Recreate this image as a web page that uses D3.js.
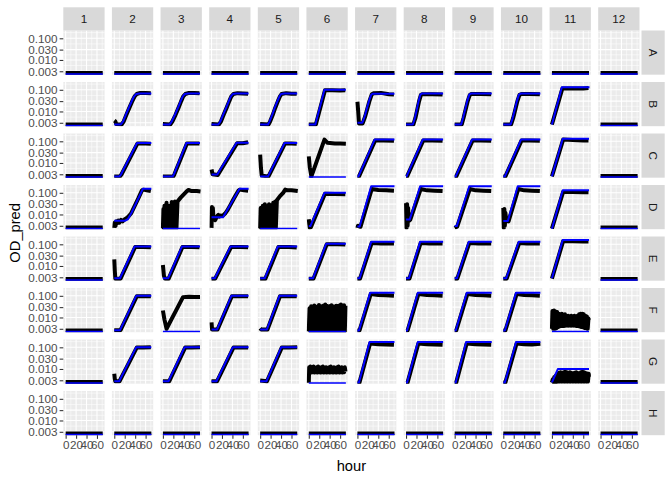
<!DOCTYPE html>
<html><head><meta charset="utf-8">
<script src="https://cdn.jsdelivr.net/npm/d3@7"></script>
<style>body{margin:0;background:#fff} svg{display:block}</style>
</head><body>
<svg id="chart" width="672" height="480"></svg>
<script>
// ---------- data ----------
const rowLabels = ["A","B","C","D","E","F","G","H"];
const colLabels = ["1","2","3","4","5","6","7","8","9","10","11","12"];
const xTicks = [0,20,40,60];
const xMinor = [10,30,50,70];
const yTicks = [0.003,0.01,0.03,0.1];
const yTickLabels = ["0.003","0.010","0.030","0.100"];
const yMinor = [0.0055,0.0173,0.055,0.183];
const xTitle = "hour";
const yTitle = "OD_pred";

// flat series used by panels without growth
const flatObs  = [[0,.0025],[71,.0025]];
const flatPred = [[0,.0022],[71,.0022]];

// model prediction (blue), [hour, OD]
const predLines = [
 {panel:"B2", pts:[[0,.0025],[12.5,.0025],[17,.0035],[22,.007],[28,.015],[34,.032],[38,.05],[42,.064],[48,.067],[71,.068]]},
 {panel:"B3", pts:[[0,.0025],[13,.0025],[17,.0035],[23,.007],[29,.015],[34,.03],[38,.05],[42,.064],[48,.067],[71,.068]]},
 {panel:"B4", pts:[[0,.0025],[13,.0025],[17,.0035],[22,.007],[28,.015],[33,.03],[37,.05],[41,.064],[47,.067],[71,.068]]},
 {panel:"B5", pts:[[0,.0025],[15,.0025],[18,.0035],[23,.007],[28,.015],[33,.03],[37,.05],[40,.064],[46,.067],[71,.068]]},
 {panel:"B6", pts:[[0,.0025],[12.5,.0025],[30,.1],[71,.1]]},
 {panel:"B7", pts:[[0,.003],[9.5,.003],[14,.006],[22,.03],[26.5,.06],[30,.066],[71,.066]]},
 {panel:"B8", pts:[[0,.0025],[13,.0025],[17,.005],[24,.03],[27.5,.06],[31,.068],[71,.068]]},
 {panel:"B9", pts:[[0,.0025],[12.5,.0025],[16,.005],[24,.03],[28,.06],[31,.068],[71,.068]]},
 {panel:"B10",pts:[[0,.0025],[14,.0025],[18,.005],[26,.03],[30,.06],[34,.068],[71,.068]]},
 {panel:"B11",pts:[[0,.0025],[19,.13],[72,.13]]},
 {panel:"C2", pts:[[0,.0024],[10,.0024],[13,.003],[43.5,.083],[71,.083]]},
 {panel:"C3", pts:[[0,.0024],[19,.0024],[21,.003],[45,.083],[71,.083]]},
 {panel:"C4", pts:[[0,.0029],[11,.0029],[48,.085],[71,.085]]},
 {panel:"C5", pts:[[0,.0024],[15,.0024],[46.7,.083],[71,.083]]},
 {panel:"C7", pts:[[0,.0024],[2,.0024],[33,.12],[71,.12]]},
 {panel:"C8", pts:[[0,.0024],[1,.0024],[32,.12],[71,.12]]},
 {panel:"C9", pts:[[0,.0024],[2,.0024],[33.4,.12],[71,.12]]},
 {panel:"C10",pts:[[0,.0024],[3,.0024],[34,.12],[71,.12]]},
 {panel:"C11",pts:[[0,.0024],[20.7,.13],[71,.13]]},
 {panel:"D2", pts:[[0,.0051],[20,.0051],[26,.006],[33,.012],[55,.155],[71,.155]]},
 {panel:"D4", pts:[[0,.0075],[22,.0075],[53.6,.155],[71,.155]]},
 {panel:"D6", pts:[[0,.0029],[3,.0029],[30,.1],[71,.1]]},
 {panel:"D7", pts:[[0,.0028],[4.3,.0028],[26.4,.2],[71,.2]]},
 {panel:"D8", pts:[[0,.0058],[7,.0058],[27,.2],[71,.2]]},
 {panel:"D9", pts:[[0,.0029],[4,.0029],[28,.2],[71,.2]]},
 {panel:"D10",pts:[[0,.005],[8.7,.005],[27.7,.2],[71,.2]]},
 {panel:"D11",pts:[[0,.0022],[20.7,.13],[71,.13]]},
 {panel:"E2", pts:[[0,.0027],[11,.0027],[39,.08],[71,.08]]},
 {panel:"E3", pts:[[0,.0027],[10,.0027],[36.5,.08],[71,.08]]},
 {panel:"E4", pts:[[0,.0027],[6.2,.0027],[36.5,.08],[71,.08]]},
 {panel:"E5", pts:[[0,.0027],[8.7,.0027],[34,.08],[71,.08]]},
 {panel:"E6", pts:[[0,.0027],[8,.0027],[33.4,.107],[71,.107]]},
 {panel:"E7", pts:[[0,.0027],[4.3,.0027],[26.4,.13],[71,.13]]},
 {panel:"E8", pts:[[0,.0027],[5.6,.0027],[27,.13],[71,.13]]},
 {panel:"E9", pts:[[0,.0027],[4.3,.0027],[27,.13],[71,.13]]},
 {panel:"E10",pts:[[0,.0027],[5.6,.0027],[29.6,.13],[71,.13]]},
 {panel:"E11",pts:[[0,.0027],[20.7,.16],[71,.16]]},
 {panel:"F2", pts:[[0,.0026],[11,.0026],[42,.1],[71,.1]]},
 {panel:"F4", pts:[[0,.0028],[10.7,.0028],[38,.1],[71,.1]]},
 {panel:"F5", pts:[[0,.0028],[13,.0028],[37,.1],[71,.1]]},
 {panel:"F7", pts:[[0,.0025],[3,.0025],[24.5,.14],[71,.14]]},
 {panel:"F8", pts:[[0,.0025],[2,.0025],[22.6,.14],[71,.14]]},
 {panel:"F9", pts:[[0,.0025],[2,.0025],[23.3,.14],[71,.14]]},
 {panel:"F10",pts:[[0,.0025],[3,.0025],[24.5,.14],[71,.14]]},
 {panel:"G2", pts:[[0,.0027],[9.4,.0027],[42,.102],[71,.102]]},
 {panel:"G3", pts:[[0,.0027],[10.7,.0027],[41.6,.102],[71,.102]]},
 {panel:"G4", pts:[[0,.0027],[9.4,.0027],[41,.102],[71,.102]]},
 {panel:"G5", pts:[[0,.0027],[12,.0027],[40.4,.102],[71,.102]]},
 {panel:"G7", pts:[[0,.0024],[3,.0024],[23.3,.175],[71,.175]]},
 {panel:"G8", pts:[[0,.0024],[2,.0024],[22.6,.175],[71,.175]]},
 {panel:"G9", pts:[[0,.0024],[2,.0024],[22,.175],[71,.175]]},
 {panel:"G10",pts:[[0,.0024],[3,.0024],[24.5,.175],[71,.175]]},
 {panel:"G11",pts:[[0,.0024],[11.3,.0099],[71,.0099]]}
];

// observed OD (black), [hour, OD]
const obsLines = [
 {panel:"B2", pts:[[0,.0038],[2,.0035],[4,.0026],[14,.0025],[18,.0034],[23,.0068],[29,.015],[35,.032],[39,.05],[43,.064],[50,.072],[60,.071],[70,.07]]},
 {panel:"B3", pts:[[0,.0026],[14,.0025],[18,.0034],[24,.0068],[30,.015],[35,.03],[39,.05],[43,.064],[50,.072],[60,.071],[70,.07]]},
 {panel:"B4", pts:[[0,.0026],[14,.0025],[18,.0034],[23,.0068],[29,.015],[34,.03],[38,.05],[42,.064],[50,.07],[60,.068],[70,.066]]},
 {panel:"B5", pts:[[0,.0026],[16,.0025],[19,.0034],[24,.0068],[29,.015],[34,.03],[38,.05],[41,.064],[50,.07],[60,.066],[70,.065]]},
 {panel:"B6", pts:[[0,.0025],[13.5,.0025],[31,.095],[45,.095],[60,.094],[70,.095]]},
 {panel:"B7", pts:[[0,.028],[1.5,.01],[3,.0028],[10,.0028],[15,.006],[23,.03],[27.5,.062],[32,.07],[45,.072],[60,.062],[70,.06]]},
 {panel:"B8", pts:[[0,.0025],[14,.0025],[18,.005],[25,.03],[28.5,.058],[32,.063],[50,.063],[70,.06]]},
 {panel:"B9", pts:[[0,.0025],[13.5,.0025],[17,.005],[25,.03],[29,.058],[32,.064],[50,.064],[70,.062]]},
 {panel:"B10",pts:[[0,.0025],[15,.0025],[19,.005],[27,.03],[31,.058],[35,.064],[50,.064],[70,.062]]},
 {panel:"B11",pts:[[0,.0025],[20,.115],[40,.115],[60,.115],[70,.12]]},
 {panel:"C2", pts:[[0,.0024],[11,.0024],[14,.003],[44.5,.08],[60,.08],[70,.078]]},
 {panel:"C3", pts:[[0,.0024],[20,.0024],[22,.003],[46,.08],[60,.08],[70,.08]]},
 {panel:"C4", pts:[[0,.005],[2,.003],[12,.0028],[49,.082],[60,.082],[70,.09]]},
 {panel:"C5", pts:[[0,.024],[1.5,.006],[3,.0026],[16,.0024],[47.7,.08],[60,.08],[70,.078]]},
 {panel:"C6", pts:[[0,.02],[2,.006],[5,.0024],[30,.119],[36,.085],[50,.08],[60,.08],[71,.078]]},
 {panel:"C7", pts:[[0,.0024],[3,.0024],[34,.11],[50,.11],[70,.105]]},
 {panel:"C8", pts:[[0,.0024],[2,.0024],[33,.11],[50,.11],[70,.105]]},
 {panel:"C9", pts:[[0,.0024],[3,.0024],[34.4,.11],[50,.11],[70,.105]]},
 {panel:"C10",pts:[[0,.0024],[4,.0024],[35,.11],[50,.11],[70,.105]]},
 {panel:"C11",pts:[[0,.0024],[21.5,.12],[40,.115],[60,.11],[70,.11]]},
 {panel:"D2", pts:[[0,.0024],[1,.0042],[2.5,.003],[4,.0048],[6,.004],[8,.0052],[10,.0042],[13,.0056],[16,.0048],[20,.006],[24,.0068],[28,.0085],[32,.011],[38,.022],[46,.055],[53,.13],[56,.14],[62,.13],[70,.12]]},
 {panel:"D3", pts:[[0,.0023],[1,.018],[2,.0023],[3,.025],[4,.0023],[5,.02],[6,.0023],[7,.035],[8,.0023],[9,.022],[10,.0023],[11,.018],[12,.0023],[13,.025],[14,.0023],[15,.02],[16,.0023],[17,.038],[18,.0023],[19,.022],[20,.0023],[21,.028],[22,.0023],[23,.04],[24,.0023],[25,.03],[26,.0023],[28,.04],[34,.06],[40,.085],[46,.12],[49,.135],[55,.12],[65,.12],[72,.115]]},
 {panel:"D4", pts:[[0,.0024],[0.8,.022],[1.6,.006],[2.5,.02],[3.5,.008],[5,.006],[7,.0055],[9,.007],[11,.0085],[13,.0095],[15,.008],[17,.009],[19,.0085],[22,.009],[26,.011],[30,.015],[36,.027],[42,.05],[48,.09],[52,.13],[54,.14],[62,.13],[70,.125]]},
 {panel:"D5", pts:[[0,.0023],[1,.02],[2,.0023],[3,.016],[4,.0023],[5,.025],[6,.0023],[7,.02],[8,.0023],[9,.03],[10,.0023],[11,.022],[12,.0023],[13,.018],[14,.0023],[15,.025],[16,.0023],[17,.03],[18,.0023],[19,.02],[20,.0023],[21,.025],[22,.0023],[23,.028],[24,.0023],[25,.035],[26,.0023],[27,.03],[28,.0023],[29,.04],[30,.0023],[32,.045],[38,.07],[44,.1],[48,.14],[52,.13],[60,.13],[72,.12]]},
 {panel:"D6", pts:[[0,.006],[1,.0035],[2,.0024],[4,.0026],[31,.09],[50,.088],[70,.085]]},
 {panel:"D7", pts:[[0,.0024],[1,.003],[6,.0027],[27.5,.15],[40,.135],[55,.13],[70,.125]]},
 {panel:"D8", pts:[[0,.033],[1,.0024],[2,.03],[3,.003],[4,.02],[5,.005],[8,.0056],[28,.15],[40,.13],[55,.125],[70,.12]]},
 {panel:"D9", pts:[[0,.0024],[5,.0028],[29,.15],[40,.13],[55,.125],[70,.12]]},
 {panel:"D10",pts:[[0,.02],[1,.0024],[2,.018],[3,.003],[4,.012],[6,.005],[10,.0048],[28.7,.15],[40,.13],[55,.125],[70,.12]]},
 {panel:"D11",pts:[[0,.0022],[21.5,.11],[40,.11],[60,.105],[70,.105]]},
 {panel:"E2", pts:[[0,.02],[1,.006],[2,.0026],[12,.0026],[40,.075],[55,.075],[70,.074]]},
 {panel:"E3", pts:[[0,.011],[2,.0035],[4,.0026],[11,.0026],[37.5,.075],[55,.075],[70,.074]]},
 {panel:"E4", pts:[[0,.0026],[7,.0026],[37.5,.075],[55,.075],[70,.074]]},
 {panel:"E5", pts:[[0,.0026],[10,.0026],[35,.075],[55,.075],[70,.072]]},
 {panel:"E6", pts:[[0,.0026],[9,.0026],[34.4,.1],[55,.1],[70,.097]]},
 {panel:"E7", pts:[[0,.0026],[5,.0026],[27.4,.115],[45,.11],[70,.108]]},
 {panel:"E8", pts:[[0,.0026],[6.5,.0026],[28,.115],[45,.11],[70,.108]]},
 {panel:"E9", pts:[[0,.0026],[5,.0026],[28,.115],[45,.11],[70,.108]]},
 {panel:"E10",pts:[[0,.0026],[6.5,.0026],[30.5,.115],[45,.11],[70,.108]]},
 {panel:"E11",pts:[[0,.0026],[21.5,.14],[40,.14],[60,.135],[70,.135]]},
 {panel:"F2", pts:[[0,.0026],[12,.0026],[43,.095],[55,.095],[70,.095]]},
 {panel:"F3", pts:[[0,.021],[3,.008],[7,.003],[38.5,.087],[50,.09],[60,.088],[71,.088]]},
 {panel:"F4", pts:[[0,.006],[1,.0028],[11.5,.0028],[39,.095],[55,.095],[70,.095]]},
 {panel:"F5", pts:[[0,.0032],[2,.0028],[14,.0028],[38,.095],[55,.095],[70,.095]]},
 {panel:"F6", pts:[[0,.0023],[1.5,.027],[3,.0023],[4.5,.033],[6,.0023],[7.5,.03],[9,.0023],[10.5,.036],[12,.0023],[13.5,.032],[15,.0023],[16.5,.03],[18,.0023],[19.5,.038],[21,.0023],[22.5,.034],[24,.0023],[25.5,.031],[27,.0023],[28.5,.036],[30,.0023],[31.5,.04],[33,.0023],[34.5,.035],[36,.0023],[37.5,.03],[39,.0023],[40.5,.034],[42,.0023],[43.5,.037],[45,.0023],[46.5,.033],[48,.0023],[49.5,.031],[51,.0023],[52.5,.035],[54,.0023],[55.5,.033],[57,.0023],[58.5,.036],[60,.0023],[61.5,.04],[63,.0023],[64.5,.034],[66,.0023],[67.5,.037],[69,.0023],[70.5,.035]]},
 {panel:"F7", pts:[[0,.0025],[4,.0025],[25.5,.12],[40,.11],[55,.105],[70,.1]]},
 {panel:"F8", pts:[[0,.0025],[3,.0025],[23.6,.12],[40,.11],[55,.105],[70,.1]]},
 {panel:"F9", pts:[[0,.0025],[3,.0025],[24.3,.12],[40,.11],[55,.105],[70,.1]]},
 {panel:"F10",pts:[[0,.0025],[4,.0025],[25.5,.12],[40,.11],[55,.105],[70,.1]]},
 {panel:"F11",pts:[[0,.003],[1,.02],[2.5,.003],[4,.021],[5.5,.003],[7,.019],[8.5,.0032],[10,.018],[11.5,.0035],[13,.015],[14.5,.0038],[16,.014],[17.5,.004],[19,.015],[20.5,.004],[22,.013],[23.5,.004],[25,.014],[26.5,.0042],[28,.012],[29.5,.0042],[31,.012],[32.5,.0042],[34,.011],[35.5,.0042],[37,.012],[38.5,.0042],[40,.011],[41.5,.0042],[43,.012],[44.5,.0042],[46,.011],[47.5,.004],[49,.012],[50.5,.004],[52,.014],[53.5,.0038],[55,.015],[56.5,.0036],[58,.015],[59.5,.0035],[61,.014],[62.5,.0033],[64,.012],[65.5,.0032],[67,.011],[68.5,.003],[70,.009],[71.5,.0075]]},
 {panel:"G2", pts:[[0,.006],[1,.0035],[2,.0027],[10,.0027],[43,.097],[55,.097],[70,.1]]},
 {panel:"G3", pts:[[0,.0027],[12,.0027],[42.6,.097],[55,.097],[71,.1]]},
 {panel:"G4", pts:[[0,.0027],[10.5,.0027],[42,.097],[55,.097],[70,.097]]},
 {panel:"G5", pts:[[0,.0029],[13,.0027],[41.4,.097],[55,.097],[71,.1]]},
 {panel:"G6", pts:[[0,.0023],[0.8,.012],[1.5,.0068],[3,.013],[4.5,.0068],[6,.012],[7.5,.007],[9,.013],[10.5,.0068],[12,.011],[13.5,.007],[15,.012],[16.5,.0068],[18,.013],[19.5,.007],[21,.011],[22.5,.0068],[24,.012],[25.5,.007],[27,.013],[28.5,.0068],[30,.011],[31.5,.007],[33,.012],[34.5,.0068],[36,.011],[37.5,.007],[39,.012],[40.5,.0068],[42,.013],[43.5,.007],[45,.011],[46.5,.0068],[48,.012],[49.5,.007],[51,.011],[52.5,.0068],[54,.012],[55.5,.007],[57,.013],[58.5,.0068],[60,.011],[61.5,.007],[63,.012],[64.5,.0068],[66,.011],[67.5,.007],[69,.012],[70.5,.0075]]},
 {panel:"G7", pts:[[0,.0024],[4,.0024],[24.3,.15],[40,.14],[55,.135],[70,.13]]},
 {panel:"G8", pts:[[0,.0024],[3,.0024],[23.6,.15],[40,.14],[55,.135],[70,.13]]},
 {panel:"G9", pts:[[0,.0024],[3,.0024],[23,.15],[40,.14],[55,.135],[70,.13]]},
 {panel:"G10",pts:[[0,.0024],[4,.0024],[25.5,.15],[40,.14],[55,.135],[71,.145]]},
 {panel:"G11",pts:[[0,.0024],[1.5,.0033],[3,.0025],[4.5,.0042],[6,.0025],[7.5,.005],[9,.0025],[10.5,.006],[12,.0026],[13.5,.0066],[15,.0026],[16.5,.007],[18,.0026],[19.5,.0066],[21,.0026],[22.5,.007],[24,.0026],[25.5,.0075],[27,.0026],[28.5,.007],[30,.0026],[31.5,.0066],[33,.0026],[34.5,.007],[36,.0026],[37.5,.0066],[39,.0026],[40.5,.0064],[42,.0026],[43.5,.0066],[45,.0026],[46.5,.007],[48,.0026],[49.5,.0066],[51,.0026],[52.5,.0064],[54,.0026],[55.5,.007],[57,.0026],[58.5,.0075],[60,.0026],[61.5,.007],[63,.0026],[64.5,.0066],[66,.0026],[67.5,.0062],[69,.0026],[70.5,.006],[72,.0042]]}
];

// ---------- layout ----------
const W = 672, H = 480;
const L = 63.3, R = 639.5, T = 30.5, B = 435.2, gap = 7.33;
const pw = (R - L - gap*(colLabels.length-1)) / colLabels.length;
const ph = (B - T - gap*(rowLabels.length-1)) / rowLabels.length;
const stripSize = 23.2;
const font = "'Liberation Sans', Arial, Helvetica, sans-serif";

const svg = d3.select("#chart");
svg.append("rect").attr("width", W).attr("height", H).attr("fill", "#fff");

const x = d3.scaleLinear().domain([-4.5, 74.6]).range([0, pw]);
const y = d3.scaleLog().domain([Math.pow(10,-2.68), Math.pow(10,-0.64)]).range([ph, 0]);

const line = d3.line().x(d => x(d[0])).y(d => y(d[1]));
const predMap = new Map(predLines.map(d => [d.panel, d.pts]));
const obsMap = new Map(obsLines.map(d => [d.panel, d.pts]));

const defs = svg.append("defs");
defs.append("clipPath").attr("id", "pclip")
  .append("rect").attr("width", pw).attr("height", ph);

rowLabels.forEach((rl, ri) => {
  colLabels.forEach((cl, ci) => {
    const px = L + ci*(pw+gap), py = T + ri*(ph+gap);
    const g = svg.append("g").attr("transform", `translate(${px},${py})`);
    g.append("rect").attr("width", pw).attr("height", ph).attr("fill", "#EBEBEB");
    // minor grid
    xMinor.forEach(v => g.append("line").attr("x1", x(v)).attr("x2", x(v)).attr("y1", 0).attr("y2", ph)
      .attr("stroke", "#fff").attr("stroke-width", 0.53));
    yMinor.forEach(v => g.append("line").attr("y1", y(v)).attr("y2", y(v)).attr("x1", 0).attr("x2", pw)
      .attr("stroke", "#fff").attr("stroke-width", 0.53));
    // major grid
    xTicks.forEach(v => g.append("line").attr("x1", x(v)).attr("x2", x(v)).attr("y1", 0).attr("y2", ph)
      .attr("stroke", "#fff").attr("stroke-width", 1.07));
    yTicks.forEach(v => g.append("line").attr("y1", y(v)).attr("y2", y(v)).attr("x1", 0).attr("x2", pw)
      .attr("stroke", "#fff").attr("stroke-width", 1.07));

    const key = rl + cl;
    const data = g.append("g").attr("clip-path", "url(#pclip)");
    data.append("path").attr("d", line(obsMap.get(key) || flatObs))
      .attr("fill", "none").attr("stroke", "#000").attr("stroke-width", 4)
      .attr("stroke-linejoin", "round").attr("stroke-linecap", "butt");
    data.append("path").attr("d", line(predMap.get(key) || flatPred))
      .attr("fill", "none").attr("stroke", "#0000FF").attr("stroke-width", 2)
      .attr("stroke-linejoin", "round").attr("stroke-linecap", "butt");

    // axes
    if (ci === 0) {
      const ax = g.append("g").call(d3.axisLeft(y).tickValues(yTicks)
        .tickFormat((d,i) => yTickLabels[i]).tickSize(3.67).tickPadding(2.2));
      ax.select(".domain").remove();
      ax.selectAll("line").attr("stroke", "#333333").attr("stroke-width", 1.07);
      ax.selectAll("text").attr("fill", "#4D4D4D").style("font-size", "11.7px").style("font-family", font);
    }
    if (ri === rowLabels.length - 1) {
      const ax = g.append("g").attr("transform", `translate(0,${ph})`)
        .call(d3.axisBottom(x).tickValues(xTicks).tickSize(3.67).tickPadding(2.2));
      ax.select(".domain").remove();
      ax.selectAll("line").attr("stroke", "#333333").attr("stroke-width", 1.07);
      ax.selectAll("text").attr("fill", "#4D4D4D").style("font-size", "11.7px").style("font-family", font);
    }
  });
});

// top strips
colLabels.forEach((cl, ci) => {
  const px = L + ci*(pw+gap);
  svg.append("rect").attr("x", px).attr("y", T - stripSize).attr("width", pw).attr("height", stripSize)
    .attr("fill", "#D9D9D9");
  svg.append("text").attr("x", px + pw/2).attr("y", T - stripSize/2).attr("dy", "0.35em")
    .attr("text-anchor", "middle").attr("fill", "#1A1A1A")
    .style("font-size", "11.7px").style("font-family", font).text(cl);
});
// right strips
rowLabels.forEach((rl, ri) => {
  const py = T + ri*(ph+gap);
  const sx = R + 2;
  svg.append("rect").attr("x", sx).attr("y", py).attr("width", stripSize).attr("height", ph)
    .attr("fill", "#D9D9D9");
  svg.append("text").attr("transform", `translate(${sx + stripSize/2},${py + ph/2}) rotate(90)`)
    .attr("dy", "0.35em").attr("text-anchor", "middle").attr("fill", "#1A1A1A")
    .style("font-size", "11.7px").style("font-family", font).text(rl);
});

// axis titles
svg.append("text").attr("x", (L + R)/2).attr("y", 471)
  .attr("text-anchor", "middle").attr("fill", "#000")
  .style("font-size", "14.7px").style("font-family", font).text(xTitle);
svg.append("text").attr("transform", `translate(19.5,${(T + B)/2}) rotate(-90)`)
  .attr("text-anchor", "middle").attr("fill", "#000")
  .style("font-size", "14.7px").style("font-family", font).text(yTitle);
</script>
</body></html>
